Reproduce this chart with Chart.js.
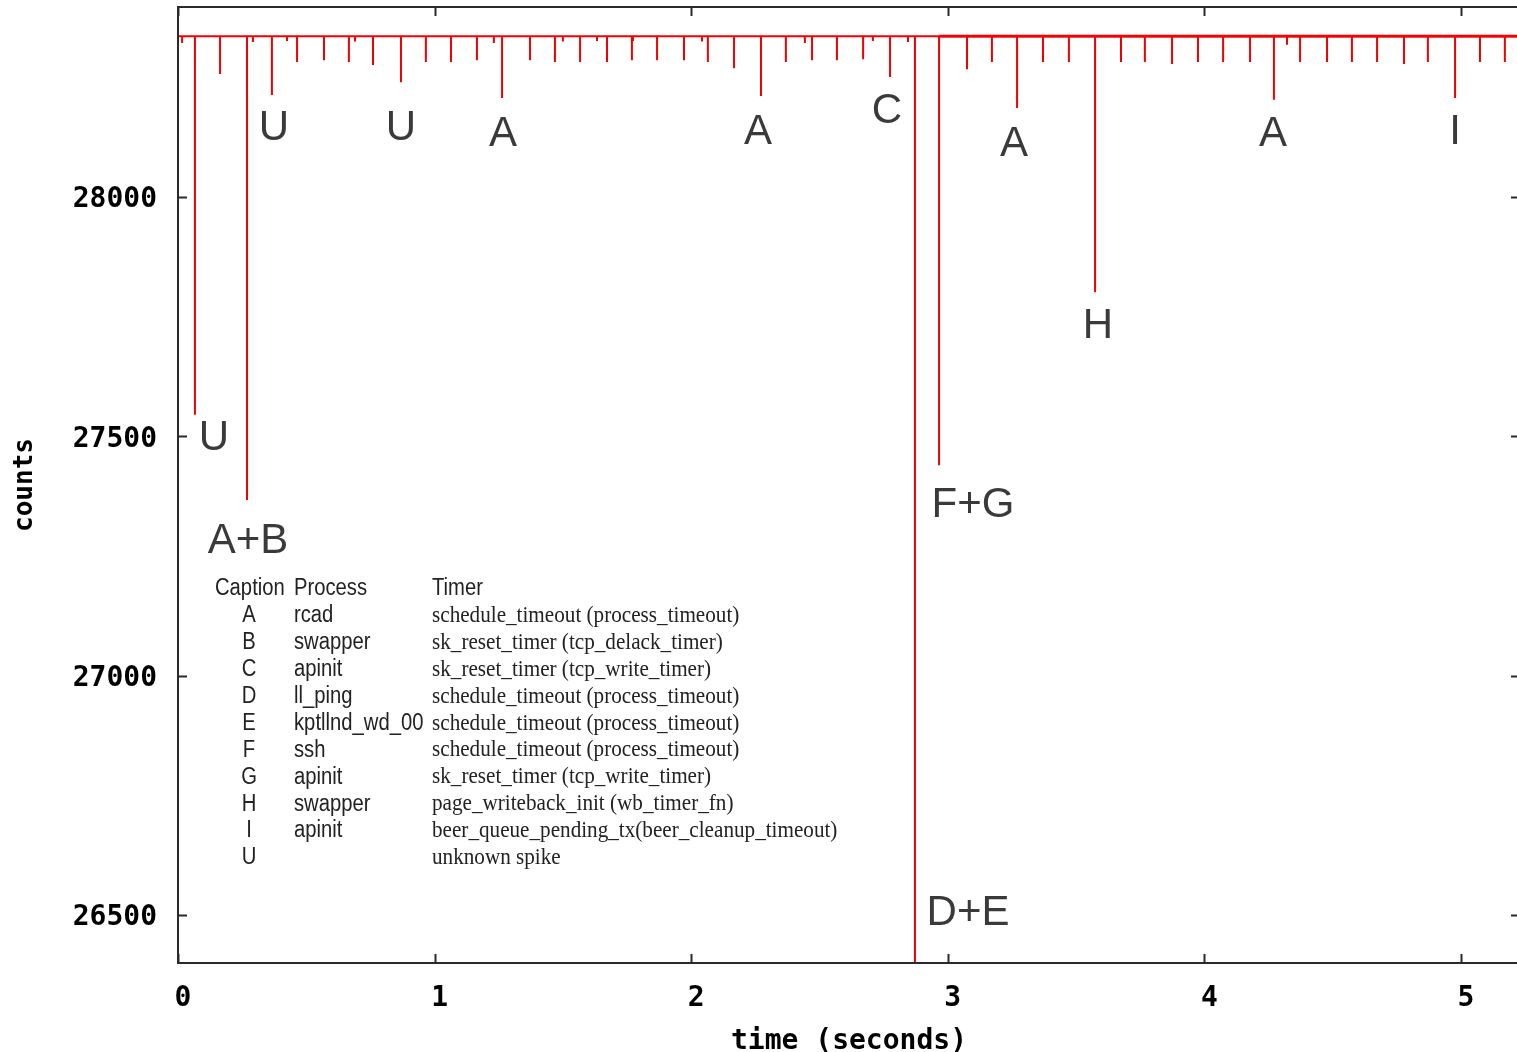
<!DOCTYPE html>
<html>
<head>
<meta charset="utf-8">
<script src="https://cdn.jsdelivr.net/npm/chart.js@4.4.1/dist/chart.umd.min.js"></script>
<style>
  html, body { margin: 0; padding: 0; background: #fff; overflow: hidden; }
  #wrap { width: 1530px; height: 1052px; }
</style>
</head>
<body>
<div id="wrap"><canvas id="c" width="1530" height="1052"></canvas></div>
<script>
// ---------------- data ----------------
const xTicks = [0, 1, 2, 3, 4, 5];
const yTicks = [26500, 27000, 27500, 28000];
const xMin = 0, xMax = 5.23;
const yMin = 26400, yMax = 28397;
const baseline = 28336;

// spike times (s) and the count each spike drops to
const spikeTimes = [0.066, 0.164, 0.269, 0.366, 0.464, 0.569, 0.666, 0.760, 0.869, 0.966,
                    1.064, 1.165, 1.263, 1.372, 1.469, 1.567, 1.672, 1.769, 1.867, 1.972,
                    2.065, 2.167, 2.272, 2.369, 2.471, 2.568, 2.670, 2.775, 2.872, 2.966,
                    3.075, 3.172, 3.270, 3.371, 3.472, 3.574, 3.675, 3.768, 3.874, 3.975,
                    4.073, 4.178, 4.271, 4.373, 4.478, 4.575, 4.673, 4.778, 4.871, 4.977,
                    5.074, 5.171];
const spikeValues = [27545, 28257, 27367, 28213, 28282, 28286, 28282, 28276, 28240, 28282,
                     28282, 28286, 28207, 28286, 28282, 28282, 28282, 28286, 28286, 28286,
                     28282, 28269, 28211, 28282, 28286, 28286, 28288, 28251, 26200, 27440,
                     28267, 28282, 28186, 28282, 28282, 27801, 28282, 28282, 28278, 28282,
                     28282, 28282, 28203, 28282, 28282, 28282, 28282, 28278, 28282, 28207,
                     28282, 28282];
// tiny blips close to the baseline
const blipTimes  = [0.016, 0.292, 0.425, 0.690, 1.231, 1.500, 1.633, 1.773, 2.042, 2.443, 2.708, 2.845, 4.322];
const blipValues = [28322, 28324, 28326, 28325, 28322, 28325, 28326, 28326, 28325, 28322, 28326, 28324, 28318];

// annotation letters in the plot
const labelTexts  = ['U', 'A+B', 'U', 'U', 'A', 'A', 'C', 'A', 'A', 'I', 'H', 'F+G', 'D+E'];
const labelTimes  = [0.140, 0.273, 0.374, 0.869, 1.267, 2.260, 2.763, 3.258, 4.267, 4.977, 3.585, 3.098, 3.079];
const labelValues = [27496, 27281, 28144, 28144, 28130, 28134, 28178, 28109, 28130, 28136, 27730, 27356, 26504];

// caption table
const tableHeader = ['Caption', 'Process', 'Timer'];
const captionLetters = ['A', 'B', 'C', 'D', 'E', 'F', 'G', 'H', 'I', 'U'];
const processNames = ['rcad', 'swapper', 'apinit', 'll_ping', 'kptllnd_wd_00', 'ssh', 'apinit', 'swapper', 'apinit', ''];
const timerNames = ['schedule_timeout (process_timeout)', 'sk_reset_timer (tcp_delack_timer)',
                    'sk_reset_timer (tcp_write_timer)', 'schedule_timeout (process_timeout)',
                    'schedule_timeout (process_timeout)', 'schedule_timeout (process_timeout)',
                    'sk_reset_timer (tcp_write_timer)', 'page_writeback_init (wb_timer_fn)',
                    'beer_queue_pending_tx(beer_cleanup_timeout)', 'unknown spike'];

// ---------------- build line points ----------------
const events = spikeTimes.map((t, i) => ({ t, v: spikeValues[i] }))
  .concat(blipTimes.map((t, i) => ({ t, v: blipValues[i] })))
  .sort((a, b) => a.t - b.t);
const points = [{ x: xMin, y: baseline }];
events.forEach(e => {
  points.push({ x: e.t, y: baseline });
  points.push({ x: e.t, y: e.v });
  points.push({ x: e.t, y: baseline });
});
points.push({ x: xMax, y: baseline });

const monoBold = { family: "'DejaVu Sans Mono', 'Liberation Mono', monospace", size: 28, weight: 'bold' };

// ---------------- plugins ----------------
const framePlugin = {
  id: 'frame',
  afterDatasetsDraw(chart) {
    const { ctx, chartArea: a, scales: { x, y } } = chart;
    ctx.save();
    ctx.strokeStyle = '#2a2a2a';
    ctx.lineWidth = 2;
    ctx.strokeRect(a.left, a.top, a.right - a.left, a.bottom - a.top);
    const tl = 9;
    ctx.beginPath();
    xTicks.forEach(v => {
      const px = Math.round(x.getPixelForValue(v)) + 0.5;
      ctx.moveTo(px, a.bottom); ctx.lineTo(px, a.bottom - tl);
      ctx.moveTo(px, a.top); ctx.lineTo(px, a.top + tl);
    });
    yTicks.forEach(v => {
      const py = Math.round(y.getPixelForValue(v)) + 0.5;
      ctx.moveTo(a.left, py); ctx.lineTo(a.left + tl, py);
      ctx.moveTo(a.right, py); ctx.lineTo(a.right - tl, py);
    });
    ctx.stroke();
    ctx.restore();
  },
  afterDraw(chart) {
    const { ctx, chartArea: a, scales: { x, y } } = chart;
    ctx.save();
    // spike annotations
    ctx.fillStyle = '#3a3a3a';
    ctx.font = "42px 'DejaVu Sans ExtraLight', 'Liberation Sans', Arial, sans-serif";
    ctx.textAlign = 'center';
    ctx.textBaseline = 'middle';
    labelTexts.forEach((t, i) => {
      ctx.fillText(t, x.getPixelForValue(labelTimes[i]), y.getPixelForValue(labelValues[i]));
    });
    // caption table
    const rowY0 = a.top + 582, rowStep = 26.9;
    const colCap = a.left + 37, colLetter = a.left + 71, colProc = a.left + 116, colTimer = a.left + 254;
    const drawScaled = (txt, px, py, font, sx, align) => {
      ctx.save();
      ctx.font = font;
      ctx.textAlign = align || 'left';
      ctx.textBaseline = 'middle';
      ctx.translate(px, py);
      ctx.scale(sx, 1);
      ctx.fillText(txt, 0, 0);
      ctx.restore();
    };
    const sans = "23px 'Liberation Sans', Arial, sans-serif";
    const serif = "23px 'Liberation Serif', 'Times New Roman', serif";
    ctx.fillStyle = '#222';
    drawScaled(tableHeader[0], colCap, rowY0, sans, 0.88);
    drawScaled(tableHeader[1], colProc, rowY0, sans, 0.88);
    drawScaled(tableHeader[2], colTimer, rowY0, sans, 0.88);
    captionLetters.forEach((c, i) => {
      const ry = rowY0 + rowStep * (i + 1);
      drawScaled(c, colLetter, ry, sans, 0.88, 'center');
      if (processNames[i]) drawScaled(processNames[i], colProc, ry, sans, 0.88);
      drawScaled(timerNames[i], colTimer, ry, serif, 0.92);
    });
    ctx.restore();
  }
};

new Chart(document.getElementById('c'), {
  type: 'line',
  data: {
    datasets: [{
      data: points,
      borderColor: 'rgb(240,0,0)',
      borderWidth: 2,
      pointRadius: 0,
      tension: 0,
      fill: false,
      segment: {
        borderWidth: c => (c.p0.parsed.x > 2.88 && c.p0.parsed.y === c.p1.parsed.y) ? 3 : 2
      }
    }]
  },
  options: {
    responsive: false,
    animation: false,
    events: [],
    layout: { padding: { top: 7, right: 10, left: 0, bottom: 0 } },
    plugins: { legend: { display: false }, tooltip: { enabled: false } },
    scales: {
      x: {
        type: 'linear',
        min: xMin, max: xMax,
        grid: { display: false, drawTicks: false },
        border: { display: false },
        afterBuildTicks: s => { s.ticks = xTicks.map(v => ({ value: v })); },
        afterFit: s => { s.height = 89; s.paddingLeft = 0; s.paddingRight = 0; },
        ticks: {
          padding: 19, labelOffset: 5,
          color: '#000', font: monoBold,
          callback: v => String(v)
        },
        title: {
          display: true, text: 'time (seconds)', color: '#000',
          font: { family: monoBold.family, size: 28, weight: 'bold', lineHeight: 0.7 },
          padding: { top: 0, bottom: 0 }
        }
      },
      y: {
        type: 'linear',
        min: yMin, max: yMax,
        grid: { display: false, drawTicks: false },
        border: { display: false },
        afterBuildTicks: s => { s.ticks = yTicks.map(v => ({ value: v })); },
        afterFit: s => { s.width = 178; s.paddingTop = 0; s.paddingBottom = 0; },
        ticks: {
          padding: 21, labelOffset: 3,
          color: '#000', font: monoBold,
          callback: v => String(v)
        },
        title: {
          display: true, text: 'counts', color: '#000',
          font: { family: monoBold.family, size: 26, weight: 'bold', lineHeight: 1 },
          padding: { top: 12, bottom: 0 }
        }
      }
    }
  },
  plugins: [framePlugin]
});
</script>
</body>
</html>
